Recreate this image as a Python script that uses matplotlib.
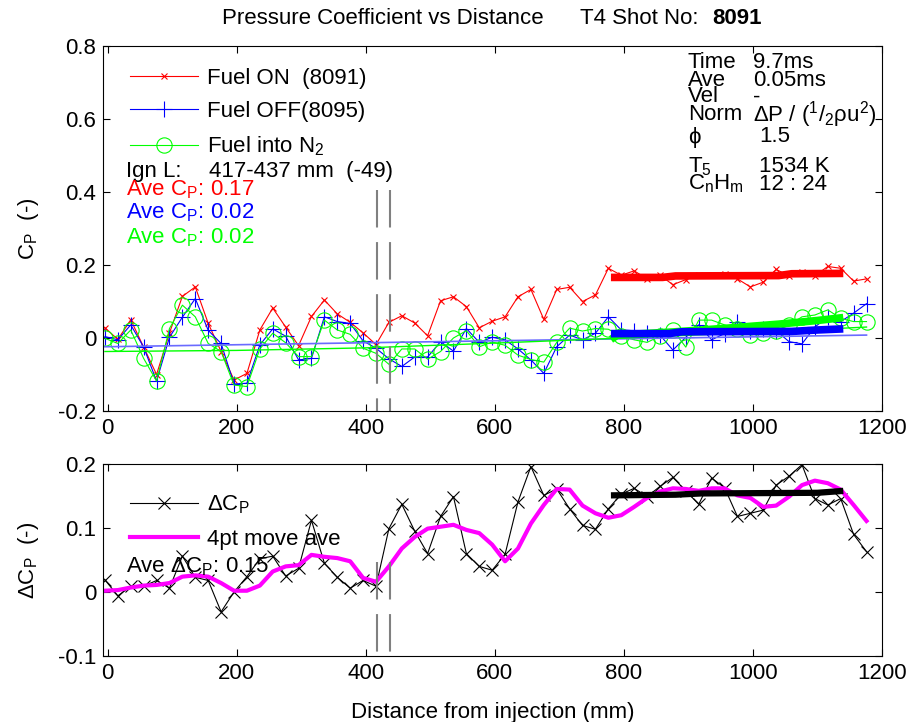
import numpy as np
import matplotlib.pyplot as plt

plt.rcParams['font.family'] = ['Liberation Sans', 'DejaVu Sans']
plt.rcParams['font.size'] = 16
plt.rcParams['mathtext.default'] = 'regular'

# 計測位置 (mm)
distance = list(range(-4, 1180, 20))

# 圧力係数 C_P
cp_fuel_on = [0.028, -0.004, 0.050, -0.025, -0.100, 0.014, 0.114, 0.140, 0.040, -0.037,
              -0.115, -0.097, 0.022, 0.082, 0.030, -0.021, 0.059, 0.104, 0.066, 0.043,
              0.014, -0.018, 0.043, 0.061, 0.041, 0.006, 0.102, 0.113, 0.086, 0.028,
              0.046, 0.058, 0.113, 0.133, 0.051, 0.133, 0.139, 0.100, 0.118, 0.191,
              0.172, 0.184, 0.162, 0.172, 0.146, 0.160, 0.172, 0.172, 0.175, 0.162,
              0.140, 0.153, 0.188, 0.170, 0.182, 0.170, 0.196, 0.191, 0.156, 0.162]
cp_fuel_off = [0.004, -0.005, 0.036, -0.025, -0.118, 0.002, 0.057, 0.108, 0.021, -0.015,
               -0.126, -0.124, -0.019, 0.025, 0.005, -0.060, -0.056, 0.058, 0.045, 0.040,
               -0.008, -0.028, -0.057, -0.078, -0.052, -0.052, -0.010, -0.036, 0.026, -0.012,
               0.002, -0.005, -0.030, -0.060, -0.097, -0.024, 0.008, -0.005, 0.013, 0.058,
               0.022, 0.020, 0.013, 0.008, -0.033, 0.002, 0.036, -0.005, 0.012, 0.045,
               0.020, 0.025, 0.020, -0.010, -0.016, 0.030, 0.058, 0.045, 0.068, 0.094]
cp_fuel_n2 = [-0.001, -0.015, 0.022, -0.056, -0.118, 0.026, 0.090, 0.058, -0.015, -0.037,
              -0.129, -0.133, -0.030, 0.013, -0.013, -0.051, -0.051, 0.049, 0.022, 0.010,
              -0.028, -0.042, -0.072, -0.030, -0.030, -0.058, -0.037, 0.000, 0.020, -0.024,
              -0.011, -0.020, -0.047, -0.059, -0.066, -0.012, 0.027, 0.019, 0.026, 0.024,
              0.005, -0.005, -0.012, 0.005, 0.022, -0.025, 0.049, 0.049, 0.036, 0.025,
              0.008, 0.015, 0.020, 0.035, 0.058, 0.063, 0.077, 0.054, 0.045, 0.045]

# ΔC_P と 4点移動平均
delta_cp = [0.019, -0.006, 0.009, 0.009, 0.018, 0.006, 0.056, 0.023, 0.018, -0.031,
            0.000, 0.024, 0.052, 0.056, 0.025, 0.037, 0.112, 0.045, 0.023, 0.006,
            0.018, 0.009, 0.099, 0.137, 0.095, 0.060, 0.118, 0.149, 0.060, 0.040,
            0.034, 0.059, 0.141, 0.196, 0.151, 0.161, 0.130, 0.104, 0.098, 0.130,
            0.153, 0.162, 0.149, 0.165, 0.179, 0.158, 0.137, 0.178, 0.163, 0.118,
            0.123, 0.128, 0.167, 0.181, 0.199, 0.146, 0.136, 0.146, 0.090, 0.063]
delta_cp_ave4 = [0.002, 0.003, 0.007, 0.010, 0.011, 0.014, 0.024, 0.026, 0.024, 0.014,
                 0.002, 0.002, 0.010, 0.032, 0.040, 0.042, 0.058, 0.055, 0.053, 0.048,
                 0.022, 0.016, 0.040, 0.068, 0.086, 0.099, 0.102, 0.105, 0.097, 0.092,
                 0.074, 0.048, 0.068, 0.107, 0.136, 0.161, 0.160, 0.135, 0.123, 0.116,
                 0.120, 0.133, 0.147, 0.157, 0.162, 0.161, 0.158, 0.162, 0.162, 0.151,
                 0.147, 0.133, 0.135, 0.149, 0.167, 0.174, 0.170, 0.160, 0.136, 0.111]

# 近似線
fit_x = [-4, 1176]
cp_off_fit = [-0.024, 0.008]
n2_fit_x = [-4, 200, 400, 600, 800, 1000, 1176]
cp_n2_fit = [-0.037, -0.034, -0.027, -0.014, 0.000, 0.015, 0.030]

# 平均区間 (780-1140 mm)
ave_on_x = [780, 860, 880, 1040, 1060, 1140]
ave_on = [0.166, 0.166, 0.170, 0.171, 0.176, 0.177]
ave_off_x = [780, 870, 890, 1060, 1100, 1140]
ave_off = [0.012, 0.012, 0.017, 0.018, 0.022, 0.025]
ave_n2_x = [780, 790, 880, 960, 1040, 1100, 1140]
ave_n2 = [-0.004, 0.008, 0.017, 0.027, 0.038, 0.048, 0.056]
ave_dcp_x = [780, 880, 920, 1100, 1140]
ave_dcp = [0.151, 0.152, 0.154, 0.155, 0.158]

# 着火位置
ign_l = [417, 437]

W, H = 910, 722


def px(x, y):
    """ピクセル座標 -> figure 座標"""
    return x / W, 1 - y / H


fig = plt.figure(figsize=(W / 100, H / 100), dpi=100)
ax1 = fig.add_axes([103 / W, 1 - 411 / H, 779 / W, 365 / H])
ax2 = fig.add_axes([103 / W, 1 - 656 / H, 779 / W, 192 / H])

dash = (0, (18, 7))
green = '#00ff00'

# ---- 上段: C_P ----
ax1.plot(distance, cp_fuel_on, '-x', color='red', lw=0.8, ms=5, mew=0.8, label='Fuel ON  (8091)')
ax1.plot(distance, cp_fuel_off, '-+', color='blue', lw=0.8, ms=12, mew=0.8, label='Fuel OFF(8095)')
ax1.plot(distance, cp_fuel_n2, '-o', color=green, lw=0.8, ms=11, mew=0.8, mfc='none',
         label='Fuel into N$_2$')
ax1.plot(fit_x, cp_off_fit, color='#6a6aff', lw=1.2)
ax1.plot(n2_fit_x, cp_n2_fit, color=green, lw=1.0)
ax1.plot(ave_on_x, ave_on, color='red', lw=5.5, solid_capstyle='butt')
ax1.plot(ave_n2_x, ave_n2, color=green, lw=5.5, solid_capstyle='butt')
ax1.plot(ave_off_x, ave_off, color='blue', lw=5.5, solid_capstyle='butt')
for x in ign_l:
    ax1.plot([x, x], [0.405, -0.2], color='gray', lw=1.5, ls=dash)

ax1.set_xlim(-7, 1200)
ax1.set_ylim(-0.2, 0.8)
ax1.set_xticks(range(0, 1201, 200))
ax1.set_yticks([-0.2, 0, 0.2, 0.4, 0.6, 0.8])
ax1.set_yticklabels(['-0.2', '0', '0.2', '0.4', '0.6', '0.8'])
ax1.set_ylabel('C$_P$  (-)')
ax1.legend(loc='upper left', bbox_to_anchor=(0.035, 0.94), frameon=False, borderpad=0,
           borderaxespad=0, handlelength=3.06, handletextpad=0.4, labelspacing=0.55)

ax1.text(*px(126, 171), 'Ign L:', transform=fig.transFigure, va='center')
ax1.text(*px(209, 171), '417-437 mm  (-49)', transform=fig.transFigure, va='center')
ax1.text(*px(126, 190), 'Ave C$_P$: 0.17', color='red', transform=fig.transFigure, va='center')
ax1.text(*px(126, 213), 'Ave C$_P$: 0.02', color='blue', transform=fig.transFigure, va='center')
ax1.text(*px(126, 238), 'Ave C$_P$: 0.02', color=green, transform=fig.transFigure, va='center')

# 条件表示
info = [('Time', '9.7ms', 62), ('Ave', '0.05ms', 80), ('Vel', '-', 97),
        ('Norm', '\u0394P / ($^1$/$_2$\u03c1u$^2$)', 115), ('\u03d5', '1.5', 137),
        ('T$_5$', '1534 K', 167), ('C$_n$H$_m$', '12 : 24', 184)]
for name, val, y in info:
    fig.text(*px(688, y), name, va='center')
    fig.text(*px(753 if y < 130 else 759, y), val, va='center')

# ---- 下段: ΔC_P ----
ax2.plot(distance, delta_cp, '-x', color='black', lw=0.8, ms=9, mew=0.8, label='\u0394C$_P$')
ax2.plot(distance, delta_cp_ave4, color='magenta', lw=3, label='4pt move ave')
ax2.plot(ave_dcp_x, ave_dcp, color='black', lw=4.5, solid_capstyle='butt')
for x in ign_l:
    ax2.plot([x, x], [0.047, -0.1], color='gray', lw=1.5, ls=dash)

ax2.set_xlim(-7, 1200)
ax2.set_ylim(-0.1, 0.2)
ax2.set_xticks(range(0, 1201, 200))
ax2.set_yticks([-0.1, 0, 0.1, 0.2])
ax2.set_yticklabels(['-0.1', '0', '0.1', '0.2'])
ax2.set_ylabel('\u0394C$_P$  (-)')
ax2.set_xlabel('Distance from injection (mm)', labelpad=13)
ax2.legend(loc='upper left', bbox_to_anchor=(0.035, 0.845), frameon=False, borderpad=0,
           borderaxespad=0, handlelength=3.06, handletextpad=0.4, labelspacing=0.57)
ax2.text(*px(126, 567), 'Ave \u0394C$_P$: 0.15', transform=fig.transFigure, va='center')

for ax in (ax1, ax2):
    ax.tick_params(direction='in', top=True, right=True, length=5, labelsize=16, pad=5)
    ax.yaxis.set_label_coords(-0.08, 0.5)

fig.text(*px(222, 18), 'Pressure Coefficient vs Distance      T4 Shot No: ', va='center')
fig.text(*px(712, 18), '8091', va='center', fontweight='bold')

fig.savefig('out.png', dpi=100)
